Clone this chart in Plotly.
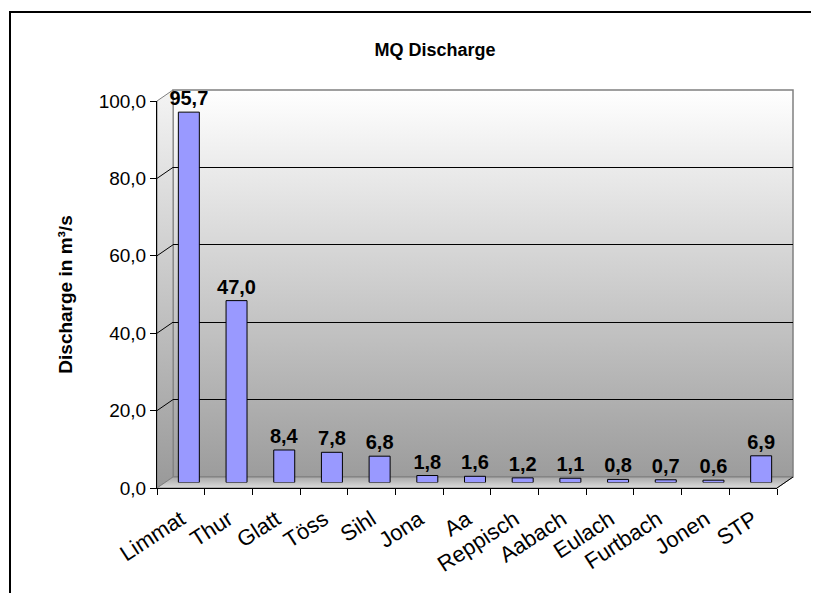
"""MQ discharge per river, Excel-style 3D column look."""

import plotly.graph_objects as go

# data
rivers = ["Limmat", "Thur", "Glatt", "Töss", "Sihl", "Jona", "Aa", "Reppisch",
          "Aabach", "Eulach", "Furtbach", "Jonen", "STP"]
discharge = [95.7, 47.0, 8.4, 7.8, 6.8, 1.8, 1.6, 1.2, 1.1, 0.8, 0.7, 0.6, 6.9]
y_ticks = [0, 20, 40, 60, 80, 100]

W, H = 819, 593
PAGE = 8  # body margin of the html page
FONT = "Arial, Liberation Sans, sans-serif"

# plot geometry in page pixels (front plane + depth offset)
FRONT_L, FRONT_R, FRONT_B, FRONT_T = 157, 777, 488, 101
DX, DY = 16, 11


def px(x):
    return (x - PAGE) / W


def py(y):
    return 1 - (y - PAGE) / H


def y_front(v):
    return FRONT_B - v / 100 * (FRONT_B - FRONT_T)


fig = go.Figure()

# --- walls and floor on a pixel canvas (xy) ---
back = dict(x=[FRONT_L + DX, FRONT_R + DX, FRONT_R + DX, FRONT_L + DX, FRONT_L + DX],
            y=[FRONT_B - DY, FRONT_B - DY, FRONT_T - DY, FRONT_T - DY, FRONT_B - DY])
side = dict(x=[FRONT_L, FRONT_L + DX, FRONT_L + DX, FRONT_L, FRONT_L],
            y=[FRONT_B, FRONT_B - DY, FRONT_T - DY, FRONT_T, FRONT_B])
floor = dict(x=[FRONT_L, FRONT_R, FRONT_R + DX, FRONT_L + DX, FRONT_L],
             y=[FRONT_B, FRONT_B, FRONT_B - DY, FRONT_B - DY, FRONT_B])

fig.add_trace(go.Scatter(
    **back, mode="lines", fill="toself", line=dict(color="#808080", width=1.5),
    fillgradient=dict(type="vertical", start=FRONT_B - DY, stop=FRONT_T - DY,
                      colorscale=[[0, "#9c9c9c"], [1, "#ffffff"]]),
    hoverinfo="skip", showlegend=False, xaxis="x", yaxis="y"))
fig.add_trace(go.Scatter(
    **side, mode="lines", fill="toself", line=dict(color="#808080", width=1),
    fillgradient=dict(type="vertical", start=FRONT_B, stop=FRONT_T - DY,
                      colorscale=[[0, "#999999"], [1, "#f4f4f4"]]),
    hoverinfo="skip", showlegend=False, xaxis="x", yaxis="y"))
fig.add_trace(go.Scatter(
    **floor, mode="lines", fill="toself", line=dict(color="#808080", width=1),
    fillgradient=dict(type="vertical", start=FRONT_B - DY, stop=FRONT_B,
                      colorscale=[[0, "#a8a8a8"], [1, "#dcdcdc"]]),
    hoverinfo="skip", showlegend=False, xaxis="x", yaxis="y"))

# left-wall diagonals at each gridline
for v in y_ticks[1:-1]:
    fig.add_trace(go.Scatter(
        x=[FRONT_L, FRONT_L + DX], y=[y_front(v), y_front(v) - DY], mode="lines",
        line=dict(color="black", width=1), hoverinfo="skip", showlegend=False,
        xaxis="x", yaxis="y"))
# floor right edge
fig.add_trace(go.Scatter(
    x=[FRONT_R, FRONT_R + DX], y=[FRONT_B, FRONT_B - DY], mode="lines",
    line=dict(color="black", width=1), hoverinfo="skip", showlegend=False,
    xaxis="x", yaxis="y"))

# --- back-wall gridlines (x2y2) ---
fig.add_trace(go.Scatter(x=[], y=[], xaxis="x2", yaxis="y2", showlegend=False))
# --- front axes (x3y3) ---
fig.add_trace(go.Scatter(x=[], y=[], xaxis="x3", yaxis="y3", showlegend=False))

# --- columns at mid depth (x4y4) ---
fig.add_trace(go.Bar(
    x=rivers, y=discharge, width=0.44,
    marker=dict(color="#9999ff", line=dict(color="black", width=1)),
    texttemplate="<b>%{y:.1f}</b>", textposition="outside", cliponaxis=False,
    constraintext="none",
    textfont=dict(size=20, color="black", family=FONT),
    xaxis="x4", yaxis="y4", showlegend=False, name="MQ"))

mid_l, mid_r = FRONT_L + DX / 2, FRONT_R + DX / 2
mid_b, mid_t = FRONT_B - DY / 2, FRONT_T - DY / 2

fig.update_layout(
    width=W, height=H,
    margin=dict(l=0, r=0, t=0, b=0, autoexpand=False),
    paper_bgcolor="white", plot_bgcolor="rgba(0,0,0,0)",
    separators=",.",
    font=dict(family=FONT, size=16, color="black"),
    title=dict(text="<b>MQ Discharge</b>", x=px(435), y=py(50),
               xanchor="center", yanchor="middle", font=dict(size=18)),
    xaxis=dict(domain=[0, 1], range=[PAGE, W + PAGE], visible=False, fixedrange=True),
    yaxis=dict(domain=[0, 1], range=[H + PAGE, PAGE], visible=False, fixedrange=True),
    xaxis2=dict(domain=[px(FRONT_L + DX), px(FRONT_R + DX)], range=[0, 1],
                visible=False, anchor="y2"),
    yaxis2=dict(domain=[py(FRONT_B - DY), py(FRONT_T - DY)], range=[0, 100],
                tickvals=y_ticks[1:-1], showgrid=True, gridcolor="black",
                gridwidth=1, showticklabels=False, zeroline=False,
                showline=False, anchor="x2"),
    xaxis3=dict(domain=[px(FRONT_L), px(FRONT_R)], range=[-0.5, 12.5],
                tickmode="array", tickvals=list(range(len(rivers))),
                ticktext=rivers, ticks="", tickangle=-33,
                ticklabelstandoff=9, automargin=False,
                minor=dict(tickvals=[i - 0.5 for i in range(len(rivers) + 1)],
                           ticks="outside", ticklen=6, tickcolor="black"),
                tickfont=dict(size=22), showgrid=False, zeroline=False,
                showline=True, linecolor="black", linewidth=1, anchor="y3"),
    yaxis3=dict(domain=[py(FRONT_B), py(FRONT_T)], range=[0, 100],
                tickvals=y_ticks, tickformat=".1f", ticks="outside",
                ticklen=6, tickcolor="black", showgrid=False, zeroline=False,
                showline=True, linecolor="black", linewidth=1,
                tickfont=dict(size=19), automargin=False,
                title=dict(text="<b>Discharge in m³/s</b>", standoff=21,
                           font=dict(size=19)),
                anchor="x3"),
    xaxis4=dict(domain=[px(mid_l), px(mid_r)], range=[-0.5, 12.5],
                type="category", visible=False, anchor="y4"),
    yaxis4=dict(domain=[py(mid_b), py(mid_t)], range=[0, 100],
                visible=False, anchor="x4"),
    shapes=[dict(type="rect", xref="paper", yref="paper",
                 x0=px(10), x1=1.02, y0=-0.02, y1=py(12),
                 line=dict(color="black", width=2), fillcolor="rgba(0,0,0,0)")],
)

fig.write_html("out.html")
